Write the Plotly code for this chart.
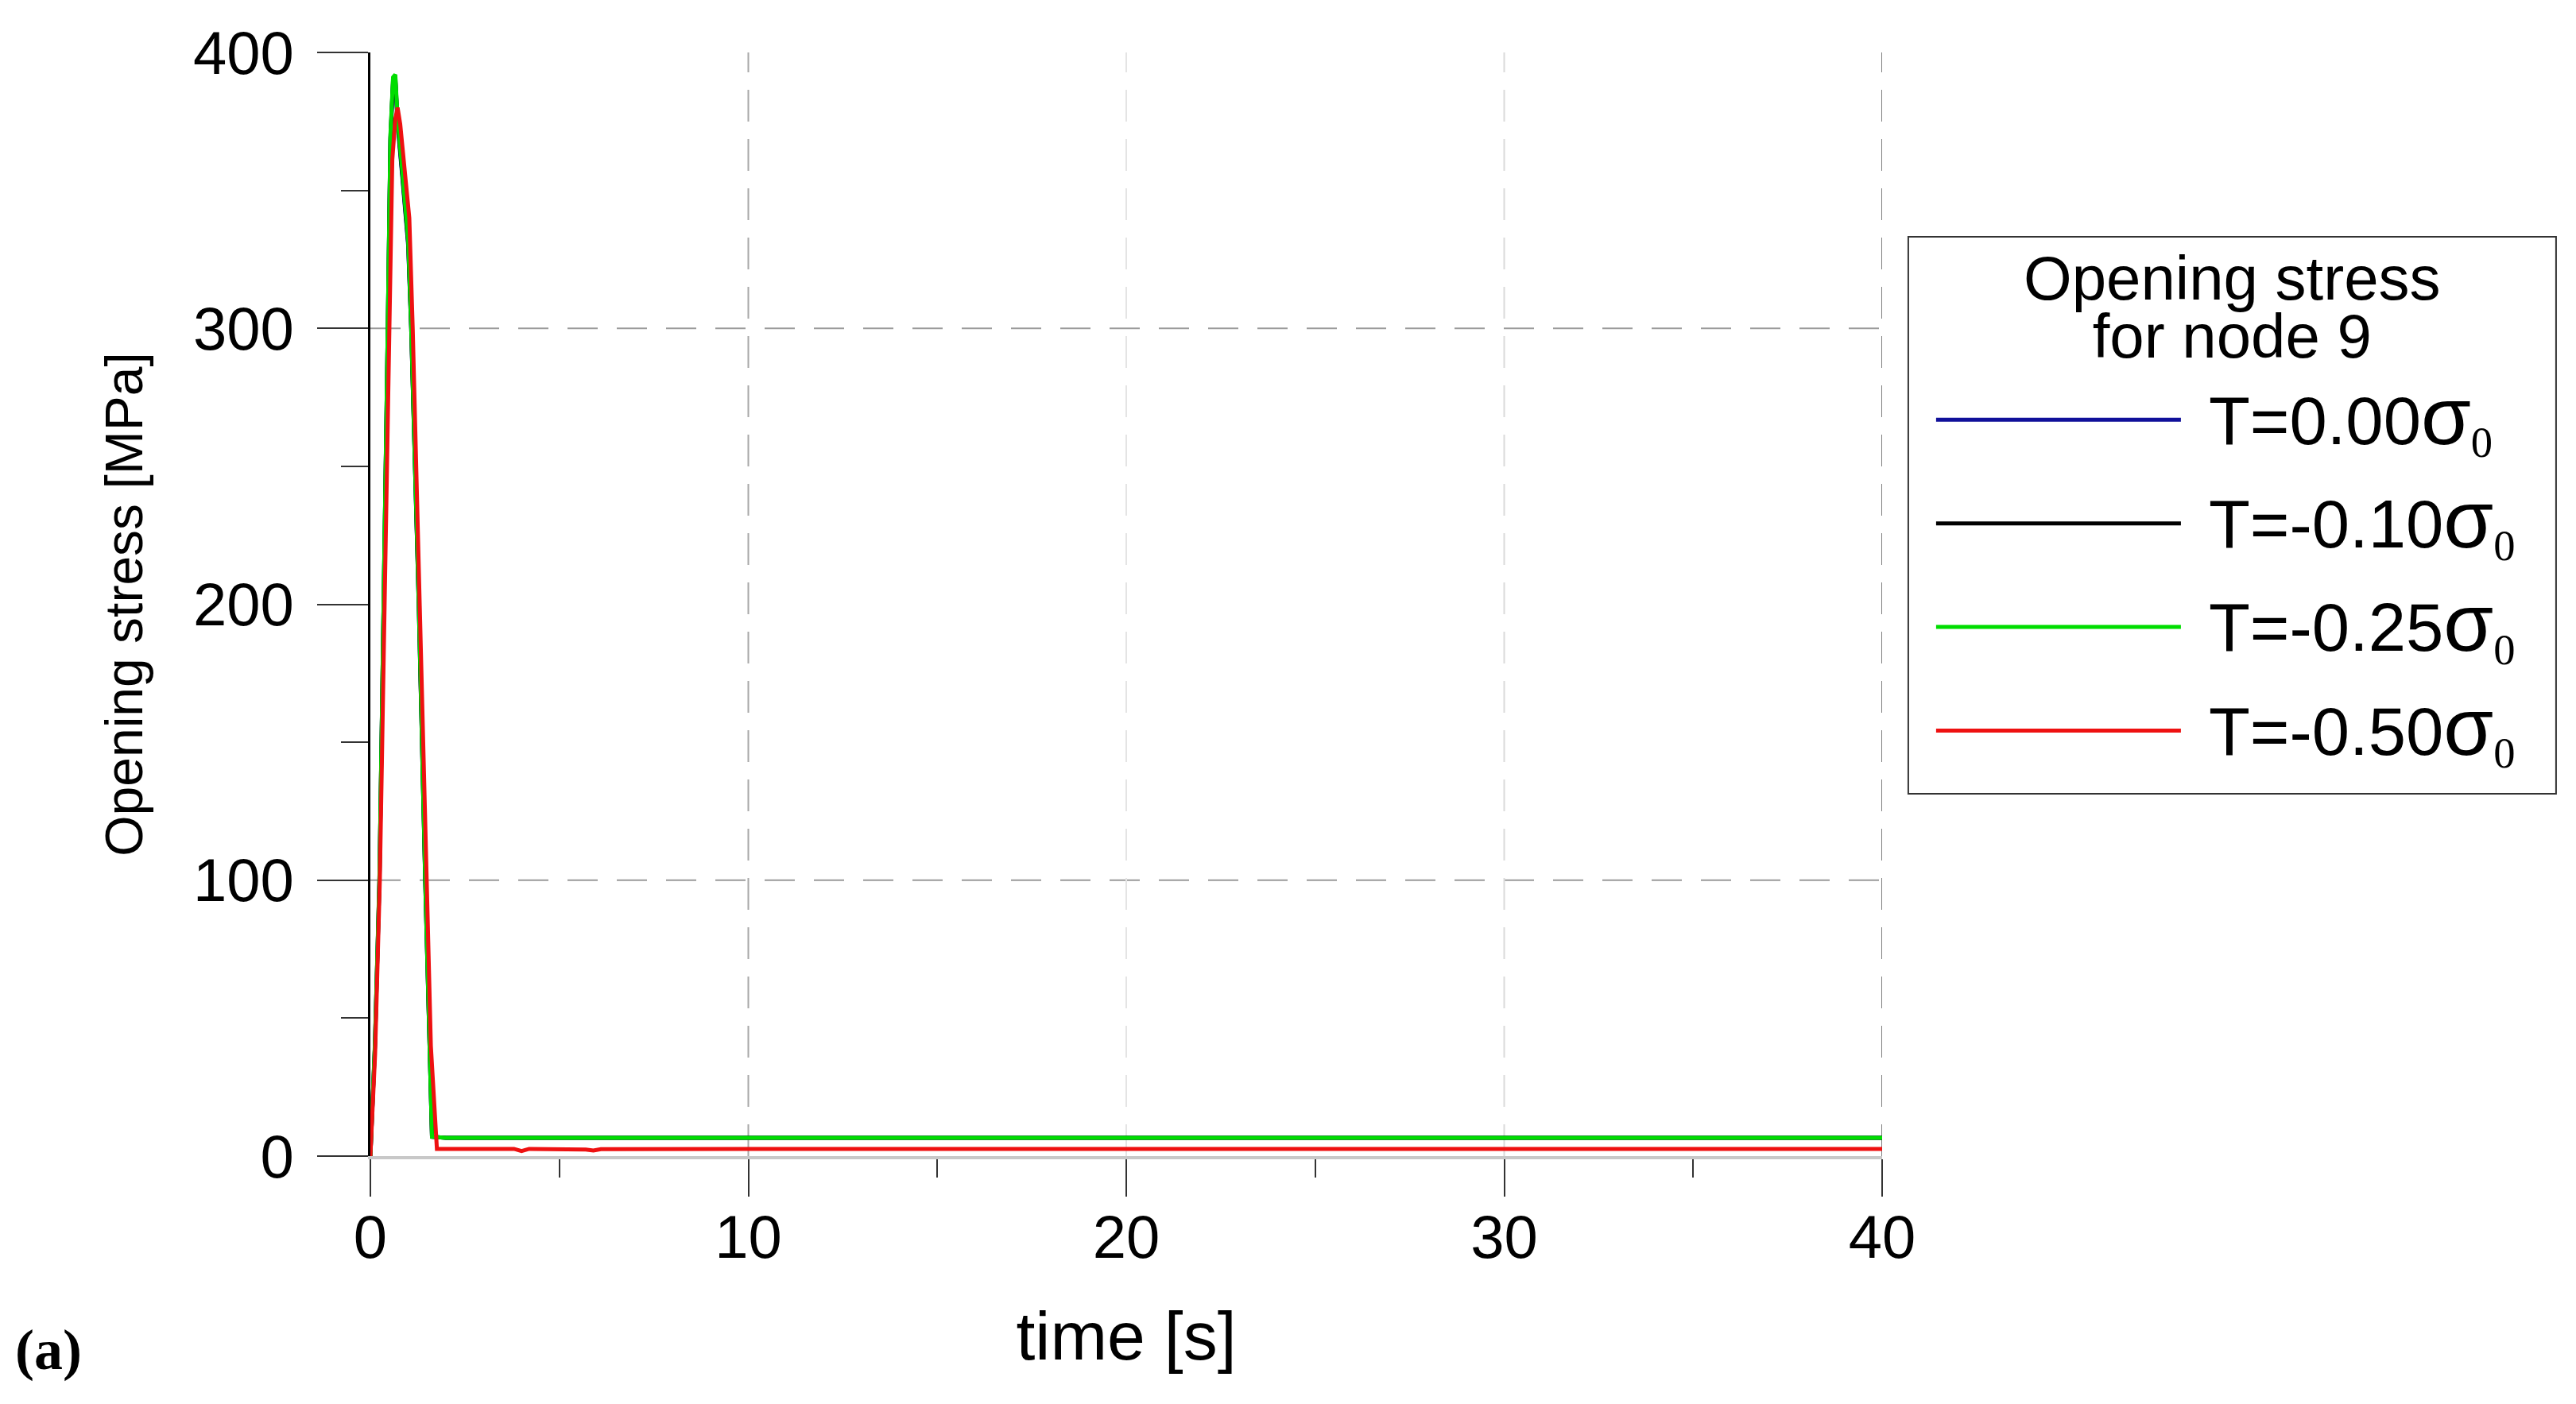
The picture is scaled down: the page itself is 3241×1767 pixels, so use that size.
import plotly.graph_objects as go

# ---------------- data ----------------
T_labels = ["0.00", "-0.10", "-0.25", "-0.50"]

time_upper = [0, 0.12, 0.24, 0.36, 0.46, 0.53, 0.60, 0.66, 0.72, 0.85, 1.00,
              1.08, 1.28, 1.45, 1.56, 1.63, 2.0, 5.0, 10.0, 20.0, 30.0, 40.0]
stress_t000 = [0, 40, 100, 200, 300, 368, 389, 390, 374, 354, 330,
               300, 200, 100, 35, 7.0, 6.6, 6.6, 6.6, 6.6, 6.6, 6.6]
stress_t010 = [0, 40, 100, 200, 300, 369, 390, 391, 375, 355, 331,
               300, 200, 100, 35, 7.0, 6.6, 6.6, 6.6, 6.6, 6.6, 6.6]
stress_t025 = [0, 41, 101, 201, 301, 370, 391, 392, 376, 356, 332,
               301, 201, 101, 36, 7.0, 6.6, 6.6, 6.6, 6.6, 6.6, 6.6]

time_red = [0, 0.125, 0.25, 0.37, 0.48, 0.58, 0.66, 0.72, 0.79, 0.89, 1.03, 1.12,
            1.32, 1.49, 1.60, 1.76, 3.8, 4.0, 4.2, 5.7, 5.9, 6.1,
            10.0, 20.0, 30.0, 40.0]
stress_t050 = [0, 37, 100, 198, 300, 361, 376, 380, 374, 361, 340, 300,
               198, 100, 40, 2.6, 2.6, 1.8, 2.6, 2.4, 2.0, 2.5,
               2.6, 2.6, 2.6, 2.6]

x_ticks = [0, 10, 20, 30, 40]
y_ticks = [0, 100, 200, 300, 400]
x_grid = [10, 20, 30, 40]
y_grid = [100, 300]
legend_title_lines = ["Opening stress", "for node 9"]

# ---------------- styling ----------------
line_colors = ["#10109a", "#000000", "#00dd00", "#ee1111"]
vgrid_colors = ["#a8a8a8", "#e4e4e4", "#dadada", "#808080"]
FONT = "Liberation Sans, Arial, sans-serif"
SERIF = "Liberation Serif, Times New Roman, serif"

# legend frame / title placement in paper coordinates
LEG_LEFT, LEG_RIGHT, LEG_BOTTOM, LEG_TOP = 1.0173, 1.4458, 0.3283, 0.833
TITLE_Y = 0.7689


def legend_name(t):
    return ("<span style='font-size:60px'>\u2002</span>"
            "<span style='font-size:85px'>T=" + t + "</span>"
            "<span style='font-size:102px'>σ</span>"
            "<sub><span style='font-family:Liberation Serif'>0</span></sub>")


legend_title = "<br>".join(
    "<span style='font-size:78px'>" + s + "</span>" for s in legend_title_lines)

fig = go.Figure()
xs = [time_upper, time_upper, time_upper, time_red]
ys = [stress_t000, stress_t010, stress_t025, stress_t050]
for i, (t, x, y, c) in enumerate(zip(T_labels, xs, ys, line_colors)):
    fig.add_trace(go.Scatter(x=x, y=y, mode="lines", name=legend_name(t),
                             legendgroup=f"g{i}",
                             line=dict(color=c, width=5)))

for v in y_grid:
    fig.add_hline(y=v, line=dict(color="#9a9a9a", width=2, dash="38px,24px"),
                  layer="below")
for v, c in zip(x_grid, vgrid_colors):
    fig.add_vline(x=v, line=dict(color=c, width=2, dash="40px,22px"),
                  layer="below")

# legend frame and two-line title
fig.add_shape(type="rect", xref="paper", yref="paper",
              x0=LEG_LEFT, x1=LEG_RIGHT, y0=LEG_BOTTOM, y1=LEG_TOP,
              line=dict(color="#333333", width=2), fillcolor="rgba(0,0,0,0)")
fig.add_annotation(text=legend_title, xref="paper", yref="paper",
                   x=(LEG_LEFT + LEG_RIGHT) / 2, y=TITLE_Y,
                   xanchor="center", yanchor="middle", showarrow=False,
                   font=dict(family=FONT, size=56, color="black"))

fig.update_layout(
    width=3241, height=1767, autosize=False,
    margin=dict(l=458, r=881, t=58, b=320),
    paper_bgcolor="white", plot_bgcolor="white",
    font=dict(family=FONT, color="black", size=72),
    showlegend=True,
    legend=dict(
        x=LEG_LEFT, y=0.7084, xanchor="left", yanchor="top",
        borderwidth=0, bgcolor="rgba(0,0,0,0)",
        font=dict(family=FONT, size=78, color="black"),
        itemwidth=308, traceorder="grouped", tracegroupgap=26,
        indentation=30,
    ),
    xaxis=dict(
        range=[0, 40], tickvals=x_ticks, ticks="outside", ticklen=47,
        tickwidth=2, tickcolor="#333333", showgrid=False, zeroline=False,
        showline=True, linecolor="#c8c8c8", linewidth=4,
        minor=dict(dtick=5, ticks="outside", ticklen=23, tickwidth=2,
                   tickcolor="#333333", showgrid=False),
        tickfont=dict(size=76), ticklabelstandoff=-14,
        title=dict(text="time [s]", font=dict(size=86), standoff=54),
    ),
    yaxis=dict(
        range=[0, 400], tickvals=y_ticks, ticks="outside", ticklen=64,
        tickwidth=2, tickcolor="#333333", showgrid=False, zeroline=False,
        showline=True, linecolor="black", linewidth=3,
        minor=dict(dtick=50, ticks="outside", ticklen=34, tickwidth=2,
                   tickcolor="#333333", showgrid=False),
        tickfont=dict(size=76), ticklabelstandoff=14,
        title=dict(text="Opening stress [MPa]", font=dict(size=66), standoff=42),
    ),
)

fig.add_annotation(text="<b>(a)</b>", xref="paper", yref="paper",
                   x=-0.213, y=-0.1756, xanchor="center", yanchor="middle",
                   showarrow=False,
                   font=dict(family=SERIF, size=72, color="black"))

fig.write_html("out.html")
